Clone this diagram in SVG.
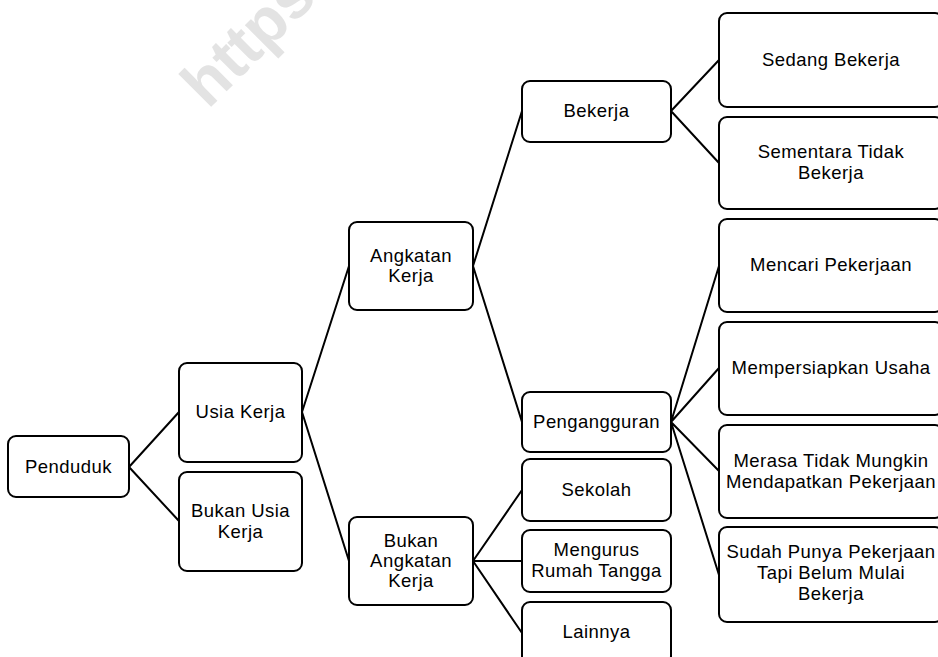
<svg xmlns="http://www.w3.org/2000/svg" width="938" height="657" viewBox="0 0 938 657">
<style>
.box{fill:#fff;stroke:#000;stroke-width:2}
.t{font-family:"Liberation Sans",Arial,sans-serif;font-size:18.5px;letter-spacing:0.45px;fill:#000;text-anchor:middle}
.c{stroke:#000;stroke-width:2;fill:none}
.wm{font-family:"Liberation Sans",Arial,sans-serif;font-size:64px;font-weight:bold;fill:#e3e3e3}
</style>
<rect width="938" height="657" fill="#fff"/>
<text class="wm" transform="translate(208,110) rotate(-45)">https</text>
<g id="connectors">
<path class="c" d="M129,467 L179,412 M129,467 L179,521"/>
<path class="c" d="M302,412 L349,266 M302,412 L349,561"/>
<path class="c" d="M473,266 L522,111 M473,266 L522,422"/>
<path class="c" d="M671,111 L719,60 M671,111 L719,163"/>
<path class="c" d="M671,422 L719,266 M671,422 L719,368 M671,422 L719,471 M671,422 L719,575"/>
<path class="c" d="M473,561 L522,490 M473,561 L522,561 M473,561 L522,633"/>
</g>
<g id="penduduk"><rect class="box" x="8" y="436" width="121" height="61" rx="8"/><text class="t" x="68.5" y="473">Penduduk</text></g>
<g id="usia-kerja"><rect class="box" x="179" y="363" width="123" height="99" rx="8"/><text class="t" x="240.5" y="418">Usia Kerja</text></g>
<g id="bukan-usia-kerja"><rect class="box" x="179" y="472" width="123" height="99" rx="8"/><text class="t" x="240.5" y="517">Bukan Usia</text><text class="t" x="240.5" y="538">Kerja</text></g>
<g id="angkatan-kerja"><rect class="box" x="349" y="222" width="124" height="88" rx="8"/><text class="t" x="411" y="262">Angkatan</text><text class="t" x="411" y="282">Kerja</text></g>
<g id="bukan-angkatan-kerja"><rect class="box" x="349" y="517" width="124" height="88" rx="8"/><text class="t" x="411" y="547">Bukan</text><text class="t" x="411" y="567">Angkatan</text><text class="t" x="411" y="587">Kerja</text></g>
<g id="bekerja"><rect class="box" x="522" y="81" width="149" height="61" rx="8"/><text class="t" x="596.5" y="117">Bekerja</text></g>
<g id="pengangguran"><rect class="box" x="522" y="392" width="149" height="60" rx="8"/><text class="t" x="596.5" y="428">Pengangguran</text></g>
<g id="sekolah"><rect class="box" x="522" y="459" width="149" height="62" rx="8"/><text class="t" x="596.5" y="496">Sekolah</text></g>
<g id="mengurus"><rect class="box" x="522" y="530" width="149" height="62" rx="8"/><text class="t" x="596.5" y="556">Mengurus</text><text class="t" x="596.5" y="577">Rumah Tangga</text></g>
<g id="lainnya"><rect class="box" x="522" y="602" width="149" height="62" rx="8"/><text class="t" x="596.5" y="638">Lainnya</text></g>
<g id="sedang-bekerja"><rect class="box" x="719" y="13" width="224" height="94" rx="8"/><text class="t" x="831" y="66">Sedang Bekerja</text></g>
<g id="sementara-tidak-bekerja"><rect class="box" x="719" y="117" width="224" height="92" rx="8"/><text class="t" x="831" y="158">Sementara Tidak</text><text class="t" x="831" y="179">Bekerja</text></g>
<g id="mencari-pekerjaan"><rect class="box" x="719" y="219" width="224" height="93" rx="8"/><text class="t" x="831" y="271">Mencari Pekerjaan</text></g>
<g id="mempersiapkan-usaha"><rect class="box" x="719" y="322" width="224" height="93" rx="8"/><text class="t" x="831" y="374">Mempersiapkan Usaha</text></g>
<g id="merasa-tidak-mungkin"><rect class="box" x="719" y="425" width="224" height="93" rx="8"/><text class="t" x="831" y="467">Merasa Tidak Mungkin</text><text class="t" x="831" y="488">Mendapatkan Pekerjaan</text></g>
<g id="sudah-punya-pekerjaan"><rect class="box" x="719" y="527" width="224" height="95" rx="8"/><text class="t" x="831" y="558">Sudah Punya Pekerjaan</text><text class="t" x="831" y="579">Tapi Belum Mulai</text><text class="t" x="831" y="600">Bekerja</text></g>
</svg>
